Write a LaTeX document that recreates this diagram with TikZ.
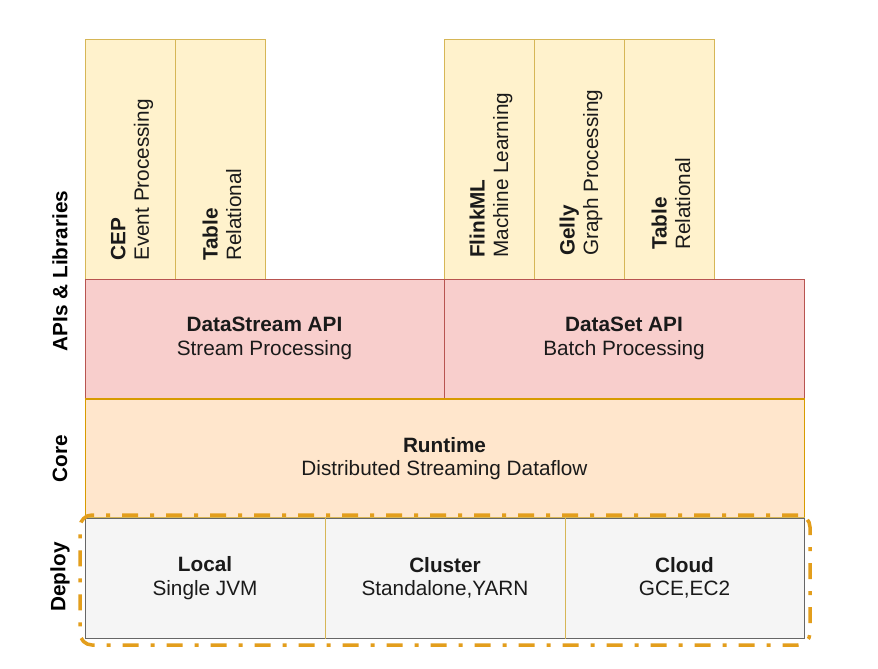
\documentclass[tikz,border=0pt]{standalone}
\usepackage{fontspec}
\setmainfont{Liberation Sans}
\definecolor{ylwfill}{HTML}{FFF2CC}
\definecolor{ylwline}{HTML}{D6B656}
\definecolor{pinkfill}{HTML}{F8CECC}
\definecolor{pinkline}{HTML}{B85450}
\definecolor{orgfill}{HTML}{FFE6CC}
\definecolor{orgline}{HTML}{D79B00}
\definecolor{dashcol}{HTML}{E39E1C}
\definecolor{greyfill}{HTML}{F5F5F5}
\definecolor{greyline}{HTML}{666666}
\definecolor{txt}{HTML}{1A1A1A}
\tikzset{
  basebox/.style={draw, line width=1pt, inner sep=0pt, text=txt, align=center,
    font=\fontsize{20.75pt}{23.5pt}\selectfont},
  libbox/.style={basebox, fill=ylwfill, draw=ylwline, minimum width=90pt, minimum height=239pt},
  apibox/.style={basebox, fill=pinkfill, draw=pinkline, minimum height=119pt},
  corebox/.style={basebox, fill=orgfill, draw=orgline, minimum height=119pt},
  depbox/.style={basebox, fill=greyfill, draw=greyline, minimum height=120pt},
  vtext/.style={rotate=90, anchor=west, align=left, inner sep=0pt, text=txt,
    font=\fontsize{20.75pt}{23.5pt}\selectfont},
  sidelabel/.style={rotate=90, inner sep=0pt, text=black,
    font=\fontsize{20.75pt}{23.5pt}\selectfont\bfseries},
  frame/.style={draw=dashcol, line width=3.5pt, rounded corners=12pt,
    dash pattern=on 16pt off 12pt on 4pt off 12pt, inner sep=0pt,
    minimum width=730pt, minimum height=130pt}
}
\begin{document}
\begin{tikzpicture}[x=1pt,y=-1pt]
\useasboundingbox[fill=white] (0,0) rectangle (878,669);

% library boxes
\node[libbox] (cep) at (130,159.5) {};
\node[libbox] (tab1) at (220,159.5) {};
\node[libbox] (flinkml) at (489,159.5) {};
\node[libbox] (gelly) at (579,159.5) {};
\node[libbox] (tab2) at (669,159.5) {};
\node[vtext] (cept) at (132,261) {\textbf{CEP}\\Event Processing};
\node[vtext] (tab1t) at (222,261) {\textbf{Table}\\Relational};
\node[vtext] (flinkmlt) at (491,258) {\textbf{FlinkML}\\Machine Learning};
\node[vtext] (gellyt) at (581,256) {\textbf{Gelly}\\Graph Processing};
\node[vtext] (tab2t) at (671,250) {\textbf{Table}\\Relational};

% APIs
\node[apibox, minimum width=359pt] (dstream) at (264.5,338.5) {\textbf{DataStream API}\\Stream Processing};
\node[apibox, minimum width=360pt] (dset) at (624,338.5) {\textbf{DataSet API}\\Batch Processing};

% Core
\node[corebox, minimum width=719pt] (runtime) at (444.5,458.5) {\textbf{Runtime}\\Distributed Streaming Dataflow};
\draw[orgline, line width=1pt] (runtime.north west) -- (runtime.north east);

% Deploy
\node[depbox, minimum width=240pt] (local) at (205,578) {\textbf{Local}\\Single JVM};
\node[depbox, minimum width=240pt] (cluster) at (445,578) {\textbf{Cluster}\\Standalone,YARN};
\node[depbox, minimum width=239pt] (cloud) at (684.5,578) {\textbf{Cloud}\\GCE,EC2};
\draw[ylwline, line width=1.2pt] (local.north east) -- (local.south east);
\draw[ylwline, line width=1.2pt] (cluster.north east) -- (cluster.south east);
\draw[ylwline, line width=1.2pt] (local.north west) -- (cloud.north east);

% side labels
\node[sidelabel] (apislbl) at (60,271) {APIs \& Libraries};
\node[sidelabel] (corelbl) at (60,459) {Core};
\node[sidelabel] (deplbl) at (60,577) {Deploy};

% deploy frame
\node[frame] (depframe) at (445,580) {};
\end{tikzpicture}
\end{document}
